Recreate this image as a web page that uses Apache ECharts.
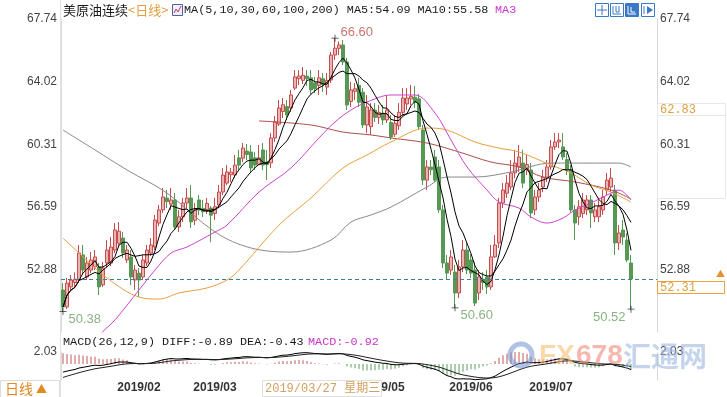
<!DOCTYPE html>
<html><head><meta charset="utf-8">
<script src="https://cdn.jsdelivr.net/npm/echarts@6/dist/echarts.min.js"></script>
<style>html,body{margin:0;padding:0;background:#fff}#c{width:727px;height:397px}</style>
</head><body><div id="c"></div>
<script>
// ---- data ----
const opens = [51.66,50.65,51.84,52.10,52.25,53.74,52.43,52.84,53.03,53.03,
51.96,53.26,53.26,54.03,54.43,54.74,53.44,53.62,52.25,52.66,
52.43,53.26,53.85,54.21,55.63,56.41,57.12,56.75,57.00,55.40,
56.00,56.82,57.12,55.80,57.00,56.50,56.40,56.52,56.20,56.70,
57.47,58.00,58.50,58.48,59.50,59.48,59.90,59.85,59.50,59.10,
59.97,59.25,59.20,60.68,61.50,62.25,62.55,62.46,63.64,64.20,
64.10,64.35,64.25,63.95,63.80,64.20,63.70,64.12,65.60,66.00,
66.20,65.19,62.85,63.45,63.80,63.40,61.45,61.35,62.34,61.90,
62.15,61.75,61.60,60.90,61.40,62.20,62.70,63.00,63.10,63.00,
61.15,58.18,58.95,59.55,58.96,56.41,53.26,52.84,52.72,51.48,
53.03,54.03,53.44,52.84,51.48,52.30,52.43,51.84,53.62,54.45,
56.82,57.40,57.77,58.60,58.96,59.19,58.80,58.78,56.41,57.18,
57.77,58.36,58.96,60.15,60.45,60.15,59.40,58.78,56.41,56.00,
56.20,56.41,57.00,56.00,56.00,56.41,57.59,57.77,57.59,54.45,
55.22,54.62,53.26];
const closes = [50.65,52.07,52.25,52.30,53.85,52.84,53.26,53.44,53.62,51.84,
52.96,54.03,54.21,55.22,55.15,53.85,54.03,52.43,52.84,52.25,
53.44,54.03,54.33,55.81,56.41,57.18,56.90,57.00,55.40,56.00,
56.82,57.12,55.70,56.40,56.40,56.30,56.80,56.10,56.60,57.47,
58.48,58.66,58.65,59.07,59.07,60.08,59.70,58.90,59.07,59.50,
59.07,59.10,60.68,61.63,62.46,62.65,62.05,63.23,64.30,64.35,
64.40,64.20,63.53,63.60,64.25,63.85,64.10,65.60,66.01,66.20,
65.19,62.64,63.53,63.60,62.80,61.45,62.52,62.34,61.90,62.20,
61.75,62.34,60.74,61.55,62.20,63.05,63.05,63.15,62.80,61.35,
58.18,58.96,58.80,58.18,56.41,53.26,52.66,53.62,51.48,53.03,
54.03,52.84,52.66,50.88,52.43,52.10,51.84,53.62,54.33,56.82,
57.59,58.00,58.60,59.19,59.55,58.00,59.10,56.23,57.18,57.59,
58.36,58.96,60.15,60.44,60.56,59.55,58.78,56.41,55.63,56.60,
57.00,57.00,56.23,56.41,56.60,57.18,58.18,58.30,54.45,55.04,
54.80,53.44,52.31];
const lows = [50.38,50.53,51.66,51.80,52.07,52.55,52.25,52.66,52.84,51.36,
51.84,52.96,53.08,53.85,54.20,53.56,53.26,51.95,51.66,51.24,
52.25,53.08,53.68,54.03,55.45,56.23,56.52,56.41,55.22,55.10,
55.69,56.52,55.34,55.51,56.11,55.99,56.17,54.50,55.81,56.52,
57.29,57.89,58.07,58.30,58.78,59.25,59.37,58.66,58.78,59.07,
58.78,58.18,58.90,60.44,61.39,61.86,61.75,62.22,63.53,63.82,
63.88,63.76,63.29,63.35,63.23,63.41,63.23,63.94,65.31,65.60,
65.01,62.34,62.52,62.93,62.52,61.27,60.97,60.86,61.63,61.51,
61.45,61.57,60.56,60.74,61.15,62.04,62.34,62.64,62.46,61.15,
57.89,57.59,58.48,58.07,56.23,52.96,52.25,52.55,50.60,51.18,
52.72,52.60,52.37,50.70,51.06,51.66,51.42,51.66,53.56,54.15,
56.52,57.12,57.59,58.30,58.66,57.71,58.48,55.93,56.11,56.88,
57.47,58.07,58.78,59.97,60.08,59.37,58.48,56.23,54.62,55.51,
55.93,56.11,55.34,55.69,55.69,56.11,57.29,57.47,53.74,54.03,
54.33,53.32,50.52];
const highs = [52.07,52.37,52.55,52.70,54.33,54.33,53.62,53.91,54.03,53.26,
53.32,54.62,54.80,55.63,55.69,55.10,54.33,54.03,53.14,52.96,
53.74,54.33,54.74,56.11,56.70,57.71,57.59,57.71,57.41,56.41,
57.12,57.71,57.89,56.82,57.29,57.00,57.12,56.64,57.12,57.89,
58.90,59.07,58.90,59.67,59.97,60.38,60.32,60.26,59.85,60.26,
60.38,59.97,60.97,61.98,62.93,63.05,62.93,63.53,64.71,64.71,
64.89,64.71,64.71,64.30,64.71,64.53,64.53,65.78,66.60,66.40,
66.49,65.43,64.00,63.94,64.24,63.64,63.23,62.75,62.75,62.64,
62.64,63.23,62.04,62.04,62.75,63.64,63.64,63.82,63.76,63.29,
61.45,59.37,59.37,59.97,59.37,56.70,53.74,54.03,53.14,53.44,
54.62,54.45,53.79,53.32,52.84,52.72,52.84,54.33,54.92,57.12,
58.01,58.48,59.37,59.97,60.26,59.97,59.67,59.19,57.59,58.01,
58.78,59.37,60.56,60.97,60.97,60.97,59.79,59.07,56.70,57.00,
57.41,57.29,57.29,56.82,57.00,57.59,58.60,58.90,57.89,55.51,
55.81,55.04,53.74];

// slow moving averages (category index, value)
const ma30Idx = [0,5,10,13,19,23,27,31,38,41,49,57,64,68,72,76,82,88,93,97,101,106,109,114,117,121,125,128,132,137,139,142];
const ma30Val = [46.6,47.9,49.2,49.88,51.66,52.84,53.85,54.21,55.10,55.51,57.47,58.90,60.68,61.63,62.34,62.81,63.23,63.23,62.16,60.56,58.96,57.59,56.88,56.52,55.99,55.63,55.93,56.40,56.82,57.41,57.59,57.00];
const ma60Idx = [0,4,11,19,24,29,36,41,44,54,62,70,76,82,91,96,103,109,114,122,127,132,137,142];
const ma60Val = [54.74,53.85,52.37,51.24,51.12,51.48,51.78,52.25,52.84,55.51,57.12,58.90,59.67,60.44,61.27,61.15,60.44,60.08,59.85,59.07,58.60,57.89,57.47,56.88];
const ma100Idx = [49,62,70,77,82,91,99,107,114,120,128,137,142];
const ma100Val = [61.69,61.45,61.03,60.86,60.68,60.38,59.85,59.25,58.96,58.36,58.07,57.59,57.06];
const ma200Idx = [0,8,16,26,38,47,57,67,72,77,82,91,96,103,112,122,131,139,142];
const ma200Val = [61.15,59.97,58.78,57.41,55.10,54.15,53.91,54.62,55.69,56.11,56.58,57.77,58.36,58.36,58.66,59.19,59.19,59.19,58.96];

const yTicks = [52.88, 56.59, 60.31, 64.02, 67.74];
const yMin = 49.165, yMax = 67.74;
const macdTicks = [2.03];
const macdMin = -2.71, macdMax = 2.03;
const monthTickIdx = [19, 38, 59, 80, 102, 122];
const monthTickText = ['2019/02', '2019/03', '2019/04', '2019/05', '2019/06', '2019/07'];
const extremeIdx = [0, 68, 98, 142];
const extremeKind = ['low', 'high', 'low', 'low'];
const macdSeed = {ema12: 51.5, ema26: 52.9, dea: -2.5};
const refPrice = 62.83;
const headerMA = 'MA(5,10,30,60,100,200) MA5:54.09 MA10:55.58';
const headerMACD = 'MACD(26,12,9) DIFF:-0.89 DEA:-0.43 ';
const headerMACDv = 'MACD:-0.92';
const cursorDate = '2019/03/27 星期三';

// ---- build ----
const N = closes.length, PAD = 6;
const cats = Array.from({length: N + PAD}, (_, i) => String(i));
const candles = opens.map((o, i) => [o, closes[i], lows[i], highs[i]]);
function ma(n) {
  return closes.map((_, i) => {
    const s = Math.max(0, i - n + 1); let sum = 0;
    for (let k = s; k <= i; k++) sum += closes[k];
    return +(sum / (i - s + 1)).toFixed(3);
  });
}
const pairs = (idx, val) => idx.map((x, k) => [x, val[k]]);
let e12 = macdSeed.ema12, e26 = macdSeed.ema26, dea = macdSeed.dea;
const diffs = [], deas = [], hists = [];
closes.forEach(c => {
  e12 = e12 * 11 / 13 + c * 2 / 13;
  e26 = e26 * 25 / 27 + c * 2 / 27;
  const d = e12 - e26;
  dea = dea * 0.8 + d * 0.2;
  diffs.push(+d.toFixed(3)); deas.push(+dea.toFixed(3)); hists.push(+(2 * (d - dea)).toFixed(3));
});
const labelMap = {};
monthTickIdx.forEach((ix, k) => labelMap[ix] = monthTickText[k]);

const mono = '"Liberation Mono","Noto Sans CJK SC",monospace';
const cjk = '"Noto Sans CJK SC",sans-serif';
const plus = 'path://M0,4h9v1h-9z M4,0h1v9h-1z';

const chart = echarts.init(document.getElementById('c'), null, {renderer: 'canvas'});
const lineS = (name, data, color, smooth) => ({
  name, type: 'line', data, xAxisIndex: 0, yAxisIndex: 0, showSymbol: false, symbol: 'none',
  smooth: smooth ? 0.35 : false, lineStyle: {color, width: 1}, silent: true, z: 3
});
const yAx = (grid, pos, min, max, ticks, margin, axisColor, dotted) => ({
  type: 'value', gridIndex: grid, position: pos, min, max, scale: true,
  axisLine: {show: true, lineStyle: {color: axisColor, type: dotted ? 'dotted' : 'solid'}},
  axisTick: {show: false}, splitLine: {show: false},
  axisLabel: {customValues: ticks, formatter: v => v.toFixed(2), color: '#444', fontSize: 12,
    fontFamily: '"Liberation Sans",Arial,sans-serif', margin}
});

chart.setOption({
  animation: false,
  backgroundColor: '#fff',
  grid: [
    {left: 61, top: 19, width: 596, height: 313},
    {left: 61, top: 352, width: 596, height: 28}
  ],
  xAxis: [
    {type: 'category', gridIndex: 0, data: cats, boundaryGap: true, show: false},
    {type: 'category', gridIndex: 1, data: cats, boundaryGap: true,
      axisLine: {show: false}, axisTick: {show: false},
      axisLabel: {interval: 0, margin: 2, color: '#333', fontWeight: 'bold', fontSize: 12,
        fontFamily: '"Liberation Sans",Arial,sans-serif',
        formatter: (v, i) => labelMap[+v] || ''}}
  ],
  yAxis: [
    yAx(0, 'left', yMin, yMax, yTicks, 4, '#dcdcdc', false),
    yAx(0, 'right', yMin, yMax, yTicks, 3, '#d0d0d0', true),
    yAx(1, 'left', macdMin, macdMax, macdTicks, 4, '#dcdcdc', false),
    yAx(1, 'right', macdMin, macdMax, macdTicks, 3, '#d0d0d0', true)
  ],
  series: [
    {type: 'candlestick', data: candles, xAxisIndex: 0, yAxisIndex: 0, barWidth: 3, z: 2,
      itemStyle: {color: '#eab4b4', color0: '#559955', borderColor: '#c84c4c', borderColor0: '#559955', borderWidth: 1},
      markLine: {silent: true, symbol: ['none', 'none'], label: {show: false},
        lineStyle: {type: [4, 3], color: '#3a7f9a', width: 1},
        data: [{yAxis: closes[N - 1]}]}},
    lineS('MA200', pairs(ma200Idx, ma200Val), '#8a8a8a', true),
    lineS('MA100', pairs(ma100Idx, ma100Val), '#a8504c', true),
    lineS('MA60', pairs(ma60Idx, ma60Val), '#e8a040', true),
    lineS('MA30', pairs(ma30Idx, ma30Val), '#cc44cc', true),
    lineS('MA10', ma(10), '#000', false),
    lineS('MA5', ma(5), '#000', false),
    {type: 'scatter', xAxisIndex: 0, yAxisIndex: 0, symbol: plus, symbolSize: 7, silent: true, z: 5,
      itemStyle: {color: '#000'},
      data: extremeIdx.map((ix, k) => {
        const v = extremeKind[k] === 'high' ? highs[ix] : lows[ix];
        const isHigh = extremeKind[k] === 'high';
        const leftSide = ix > N - 10;
        return {value: [ix, v], label: {show: true, formatter: v.toFixed(2),
          position: leftSide ? 'left' : 'right', distance: 2,
          offset: isHigh ? [0, -6] : [0, 8],
          color: isHigh ? '#c0504d' : '#6a9f62', fontSize: 13,
          fontFamily: '"Liberation Sans",Arial,sans-serif'}};
      })},
    {type: 'bar', xAxisIndex: 1, yAxisIndex: 2, data: hists, barWidth: 1, silent: true,
      itemStyle: {color: p => p.value >= 0 ? '#c05a5a' : '#5c9e5c'}},
    {type: 'line', xAxisIndex: 1, yAxisIndex: 2, data: diffs, showSymbol: false, symbol: 'none',
      lineStyle: {color: '#000', width: 1}, silent: true},
    {type: 'line', xAxisIndex: 1, yAxisIndex: 2, data: deas, showSymbol: false, symbol: 'none',
      lineStyle: {color: '#222', width: 1}, silent: true}
  ],
  graphic: [
    {type: 'line', z: 1, shape: {x1: 60.5, y1: 0, x2: 60.5, y2: 397}, style: {stroke: '#e2e2e2'}},
    {type: 'text', z: 100, x: 63, y: 10, style: {text: '美原油连续', font: '13px ' + cjk, fill: '#1a1a1a', verticalAlign: 'middle'}},
    {type: 'text', z: 100, x: 128, y: 10, style: {text: '<日线>', font: '13px ' + cjk, fill: '#e0a040', verticalAlign: 'middle'}},
    {type: 'rect', z: 100, shape: {x: 172.5, y: 4.5, width: 10, height: 11}, style: {stroke: '#55609a', fill: '#eef0fa'}},
    {type: 'polyline', z: 101, shape: {points: [[174, 13], [176, 9], [178, 12], [181, 6]]}, style: {stroke: '#c03a6a', fill: null}},
    {type: 'text', z: 100, x: 184, y: 10, style: {text: headerMA, font: '11.8px ' + mono, fill: '#1a1a1a', verticalAlign: 'middle'}},
    {type: 'text', z: 100, x: 495, y: 10, style: {text: 'MA3', font: '11.8px ' + mono, fill: '#cc33cc', verticalAlign: 'middle'}},
    // toolbar icons
    {type: 'rect', z: 100, shape: {x: 595.5, y: 3.5, width: 13, height: 13}, style: {stroke: '#3a78c8', fill: '#fff'}},
    {type: 'rect', z: 100, shape: {x: 610.5, y: 3.5, width: 13, height: 13}, style: {stroke: '#3a78c8', fill: '#fff'}},
    {type: 'rect', z: 100, shape: {x: 625.5, y: 3.5, width: 13, height: 13}, style: {stroke: '#3a78c8', fill: '#3a78c8'}},
    {type: 'rect', z: 100, shape: {x: 641.5, y: 3.5, width: 13, height: 13}, style: {stroke: '#3a78c8', fill: '#fff'}},
    {type: 'polyline', z: 101, shape: {points: [[602, 5], [602, 15]]}, style: {stroke: '#3a78c8'}},
    {type: 'polyline', z: 101, shape: {points: [[597, 10], [607, 10]]}, style: {stroke: '#3a78c8'}},
    {type: 'polyline', z: 101, shape: {points: [[613, 6], [613, 14], [621, 14]]}, style: {stroke: '#3a78c8', fill: null}},
    {type: 'polyline', z: 101, shape: {points: [[616, 6], [616, 12], [619, 12], [619, 6]]}, style: {stroke: '#3a78c8', fill: null}},
    {type: 'polyline', z: 101, shape: {points: [[628, 6], [628, 14], [636, 14]]}, style: {stroke: '#fff', fill: null}},
    {type: 'polyline', z: 101, shape: {points: [[631, 7], [631, 12], [635, 12]]}, style: {stroke: '#fff', fill: null}},
    {type: 'polyline', z: 101, shape: {points: [[644, 6], [644, 14]]}, style: {stroke: '#3a78c8'}},
    {type: 'polygon', z: 101, shape: {points: [[647, 6], [653, 10], [647, 14]]}, style: {fill: '#3a78c8'}},
    // right side price boxes
    {type: 'rect', z: 100, shape: {x: 657.5, y: 103.5, width: 68, height: 95}, style: {stroke: '#e8e8e8', fill: null}},
    {type: 'rect', z: 100, shape: {x: 657.5, y: 103.5, width: 68, height: 12}, style: {stroke: '#e8e8e8', fill: '#fff'}},
    {type: 'text', z: 101, x: 660, y: 110, style: {text: refPrice.toFixed(2), font: '12px ' + mono, fill: '#e0a040', verticalAlign: 'middle'}},
    {type: 'rect', z: 100, shape: {x: 657.5, y: 281.5, width: 67, height: 12}, style: {stroke: '#e8a040', fill: '#fff'}},
    {type: 'text', z: 101, x: 660, y: 288, style: {text: closes[N - 1].toFixed(2), font: '12px ' + mono, fill: '#e0a040', verticalAlign: 'middle'}},
    {type: 'text', z: 101, x: 716, y: 274, style: {text: '▲', font: '9px ' + cjk, fill: '#e89030', verticalAlign: 'middle'}},
    // MACD header
    {type: 'text', z: 100, x: 63, y: 342, style: {text: headerMACD, font: '11.8px ' + mono, fill: '#1a1a1a', verticalAlign: 'middle'}},
    {type: 'text', z: 100, x: 308, y: 342, style: {text: headerMACDv, font: '11.8px ' + mono, fill: '#cc33cc', verticalAlign: 'middle'}},
    // watermark
    {type: 'circle', z: 60, shape: {cx: 521, cy: 355, r: 11}, style: {stroke: '#6f8fd0', lineWidth: 5, fill: 'rgba(255,255,255,0)', opacity: 0.55}},
    {type: 'text', z: 60, x: 539, y: 356, style: {text: 'FX', font: 'bold 28px "Liberation Sans",Arial,sans-serif', fill: '#f5c070', opacity: 0.6, verticalAlign: 'middle'}},
    {type: 'text', z: 60, x: 576, y: 356, style: {text: '678', font: 'bold 28px "Liberation Sans",Arial,sans-serif', fill: '#f08878', opacity: 0.6, verticalAlign: 'middle'}},
    {type: 'text', z: 60, x: 623, y: 356, style: {text: '汇通网', font: 'bold 28px ' + cjk, fill: '#9fb8e0', opacity: 0.6, verticalAlign: 'middle'}},
    // bottom row
    {type: 'rect', z: 100, shape: {x: 0.5, y: 380.5, width: 59, height: 17}, style: {stroke: '#dcdcdc', fill: '#fff'}},
    {type: 'text', z: 101, x: 5, y: 389, style: {text: '日线', font: '14px ' + cjk, fill: '#e08a20', verticalAlign: 'middle'}},
    {type: 'text', z: 101, x: 36, y: 389, style: {text: '▲', font: '11px ' + cjk, fill: '#e08a20', verticalAlign: 'middle'}},
    {type: 'rect', z: 100, shape: {x: 262.5, y: 380.5, width: 119, height: 16}, style: {stroke: '#e0e0e0', fill: '#fff'}},
    {type: 'text', z: 101, x: 265, y: 389, style: {text: cursorDate, font: '12px ' + mono, fill: '#d4a060', verticalAlign: 'middle'}}
  ]
});
</script></body></html>
